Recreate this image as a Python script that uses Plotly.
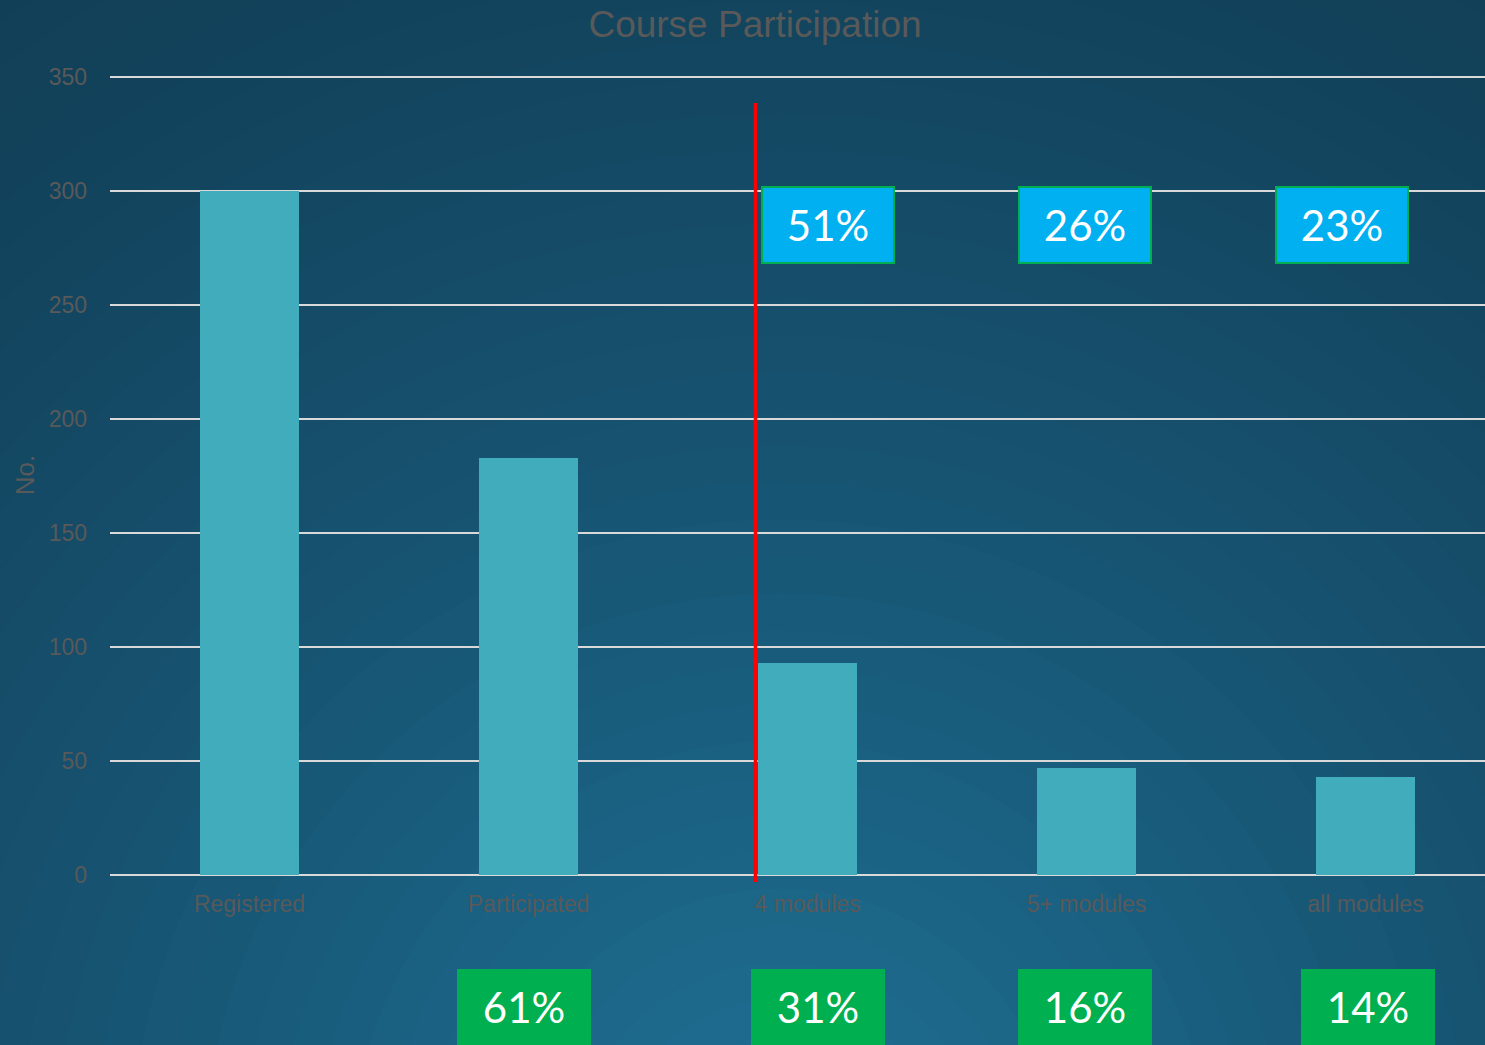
import plotly.graph_objects as go

# ---------------- data ----------------
categories = ["Registered", "Participated", "4 modules", "5+ modules", "all modules"]
counts = [300, 183, 93, 47, 43]
y_ticks = [0, 50, 100, 150, 200, 250, 300, 350]

# share of registered (bottom green boxes) and of participants (top blue boxes)
share_of_registered = [round(100 * c / counts[0]) for c in counts[1:]]
share_of_participants = [round(100 * c / counts[1]) for c in counts[2:]]

# ---------------- geometry helpers ----------------
W, H = 1485, 1045
L, R, T, B = 110, 0, 75, 170
PW, PH = W - L - R, H - T - B


def px(xp):
    return (xp - L) / PW


def py(yp):
    return (H - B - yp) / PH


def mix(c1, c2, t):
    return "rgb(%d,%d,%d)" % tuple(round(a + (b - a) * t) for a, b in zip(c1, c2))


dark = (17, 62, 86)
light = (31, 114, 152)

shapes = []
# radial background gradient made of concentric filled circles
cx, cy = 780, 1170
rmax, rmin, steps = 1500, 60, 40
for i in range(steps):
    r = rmax - (rmax - rmin) * i / (steps - 1)
    t = (1 - r / rmax) ** 1.3
    shapes.append(dict(type="circle", xref="paper", yref="paper", layer="below",
                       x0=px(cx - r), x1=px(cx + r), y0=py(cy + r), y1=py(cy - r),
                       fillcolor=mix(dark, light, t), line=dict(width=0)))

# red divider line
shapes.append(dict(type="line", xref="paper", yref="paper", layer="above",
                   x0=px(755.5), x1=px(755.5), y0=py(882), y1=py(103),
                   line=dict(color="#ff0000", width=3.5)))

fig = go.Figure()
fig.add_trace(go.Bar(x=list(range(len(categories))), y=counts, width=0.355,
                     marker=dict(color="#41adbc", line=dict(width=0)),
                     hoverinfo="x+y"))

annotations = []
# blue boxes (share of participants)
blue_x = [828, 1085, 1341.5]
for xp, v in zip(blue_x, share_of_participants):
    annotations.append(dict(xref="paper", yref="paper", x=px(xp), y=py(225),
                            xanchor="center", yanchor="middle", showarrow=False,
                            text=f"{v}%", width=130, height=74,
                            bgcolor="#00b0f0", bordercolor="#00b050", borderwidth=2, borderpad=0,
                            font=dict(family="Lato", size=42, color="white")))
# green boxes (share of registered)
green_x = [523.5, 818, 1085, 1368]
for xp, v in zip(green_x, share_of_registered):
    annotations.append(dict(xref="paper", yref="paper", x=px(xp), y=py(1007),
                            xanchor="center", yanchor="middle", showarrow=False,
                            text=f"{v}%", width=134, height=76,
                            bgcolor="#00b050", borderwidth=0, borderpad=0,
                            font=dict(family="Lato", size=42, color="white")))

fig.update_layout(
    width=W, height=H,
    margin=dict(l=L, r=R, t=T, b=B, pad=0),
    paper_bgcolor=mix(dark, light, 0),
    plot_bgcolor="rgba(0,0,0,0)",
    showlegend=False,
    bargap=0,
    title=dict(text="Course Participation", x=755 / W, xanchor="center",
               y=1 - 24 / H, yanchor="middle",
               font=dict(family="Liberation Sans, Arial", size=37, color="#595959")),
    font=dict(family="Liberation Sans, Arial", color="#595959"),
    shapes=shapes,
    annotations=annotations,
)

span = PW / 279.0
fig.update_xaxes(range=[-0.5, -0.5 + span], tickmode="array",
                 tickvals=list(range(len(categories))), ticktext=categories,
                 showgrid=False, zeroline=False, showline=False, ticks="",
                 tickfont=dict(family="Liberation Sans, Arial", size=23, color="#595959"),
                 ticklabelstandoff=13)
fig.update_yaxes(range=[0, 351], tickmode="array", tickvals=y_ticks,
                 showgrid=True, gridcolor="#d9d9d9", gridwidth=2,
                 zeroline=True, zerolinecolor="#d9d9d9", zerolinewidth=2,
                 showline=False, ticks="",
                 tickfont=dict(family="Liberation Sans, Arial", size=23, color="#595959"),
                 ticklabelstandoff=22,
                 title=dict(text="No.", font=dict(family="Liberation Sans, Arial", size=26,
                                                 color="#595959"), standoff=6))

fig.write_html("out.html", config={"displayModeBar": False},
               post_script="document.body.style.margin='0';document.body.style.overflow='hidden';")
